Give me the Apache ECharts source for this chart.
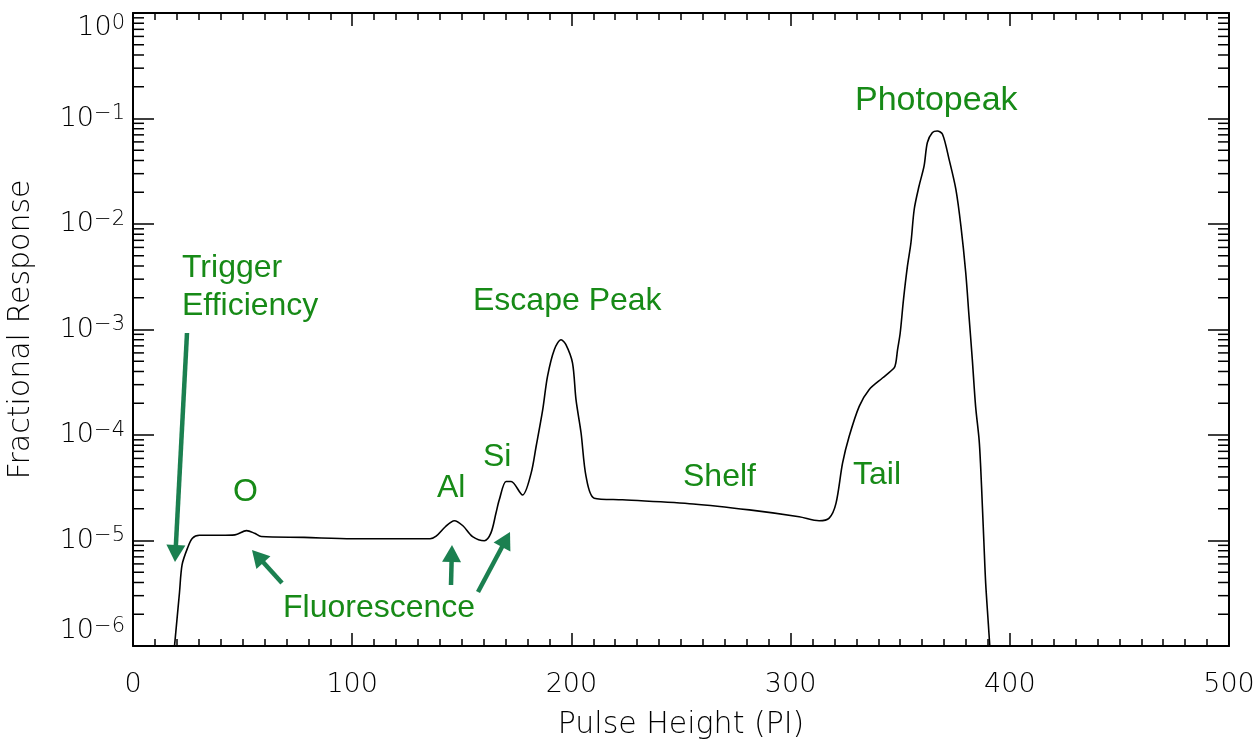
<!DOCTYPE html>
<html>
<head>
<meta charset="utf-8">
<script src="https://cdn.jsdelivr.net/npm/echarts@6/dist/echarts.min.js"></script>
<style>
html,body{margin:0;padding:0;background:#fff;}
#chart{width:1255px;height:740px;}
</style>
</head>
<body>
<div id="chart"></div>
<script>
// ---- data ----
const pulseHeight = [18.9, 21.2, 22.4, 24.9, 27.1, 30.3, 40.0, 46.5, 51.8, 55.5, 58.5, 78, 100, 120, 135.5,
  138.3, 142.5, 146.6, 150.5, 154.9, 160.3, 163.3, 165.6, 167.1, 170.2, 172.5, 177.7, 181.6, 183.9, 186.9,
  189.1, 192.2, 195.3, 197.5, 200.5, 202.1, 204.4, 206.7, 210.4, 223.3, 255.6, 281.2, 303.9, 313.0, 317.6,
  320.7, 323.7, 326.7, 331.3, 335.8, 341.9, 347.2, 348.0, 348.8, 350.0, 351.5, 353.3, 354.9, 356.4, 358.6,
  360.9, 362.4, 364.7, 366.9, 369.3, 372.3, 375.4, 377.7, 379.9, 381.4, 382.9, 384.4, 386.0, 386.7, 387.5,
  388.2, 389.0, 390.2, 390.9];
const fractionalResponse = [9.8e-7, 3.2e-6, 5.9e-6, 8.5e-6, 1.05e-5, 1.12e-5, 1.12e-5, 1.13e-5, 1.24e-5, 1.17e-5, 1.09e-5, 1.07e-5, 1.04e-5, 1.04e-5, 1.04e-5,
  1.10e-5, 1.35e-5, 1.54e-5, 1.38e-5, 1.09e-5, 9.96e-6, 1.18e-5, 1.82e-5, 2.43e-5, 3.62e-5, 3.62e-5, 2.7e-5, 4.33e-5, 7.78e-5, 1.73e-4,
  3.6e-4, 6.44e-4, 8.0e-4, 7.19e-4, 4.82e-4, 2.16e-4, 1.05e-4, 4.03e-5, 2.52e-5, 2.43e-5, 2.22e-5, 1.95e-5, 1.68e-5, 1.54e-5, 1.63e-5,
  2.25e-5, 5.41e-5, 9.68e-5, 1.87e-4, 2.69e-4, 3.47e-4, 4.31e-4, 4.82e-4, 6.44e-4, 9.27e-4, 1.92e-3, 3.98e-3, 6.64e-3, 1.38e-2, 2.29e-2,
  3.55e-2, 5.92e-2, 7.36e-2, 7.62e-2, 7.1e-2, 4.1e-2, 2.13e-2, 9.55e-3, 3.45e-3, 1.33e-3, 5.18e-4, 1.87e-4, 9.0e-5, 5.02e-5, 2.09e-5,
  9.4e-6, 3.92e-6, 1.63e-6, 9.8e-7];
const yDecades = [1e-6, 1e-5, 1e-4, 1e-3, 1e-2, 1e-1];
const yMinorMultipliers = [2, 3, 4, 5, 6, 7, 8, 9];
const xTitle = 'Pulse Height (PI)';
const yTitle = 'Fractional Response';
const annotations = [
  {text: 'Trigger', x: 182, y: 268},
  {text: 'Efficiency', x: 182, y: 306},
  {text: 'Escape Peak', x: 473, y: 301},
  {text: 'Photopeak', x: 855, y: 101, size: 34},
  {text: 'O', x: 233, y: 492},
  {text: 'Al', x: 437, y: 488},
  {text: 'Si', x: 483, y: 457},
  {text: 'Fluorescence', x: 283, y: 608},
  {text: 'Shelf', x: 683, y: 477},
  {text: 'Tail', x: 853, y: 475}
];
const arrows = [
  [187, 333, 175, 562],
  [282, 583, 252, 550],
  [451, 585, 452, 545],
  [478, 592, 510, 532]
];

// ---- build ----
const lineData = pulseHeight.map((x, i) => [x, fractionalResponse[i]]);
const minorTickData = [];
yDecades.forEach(d => yMinorMultipliers.forEach(m => minorTickData.push([0, m * d])));

const AXIS_FONT = "'DejaVu Sans ExtraLight', 'DejaVu Sans', sans-serif";
const ANN_FONT = "'Liberation Sans', Arial, Helvetica, sans-serif";
const GREEN_TEXT = '#178a17';
const GREEN_ARROW = '#1b8050';

function supLabel(v) {
  const e = Math.round(Math.log10(v));
  const es = e < 0 ? '\u2212' + (-e) : String(e);
  return '{b|10}{s|' + es + '}';
}

const xAxisCommon = {
  type: 'value', min: 0, max: 500, interval: 100,
  axisLine: {show: true, onZero: false, lineStyle: {color: '#000', width: 2}},
  axisTick: {show: true, inside: true, length: 13, lineStyle: {color: '#000', width: 1.5}},
  minorTick: {show: true, splitNumber: 10, length: 7, lineStyle: {color: '#000', width: 1.5}},
  splitLine: {show: false}, minorSplitLine: {show: false}
};
const yAxisCommon = {
  type: 'log', logBase: 10, min: 1e-6, max: 1,
  axisLine: {show: true, onZero: false, lineStyle: {color: '#000', width: 2}},
  axisTick: {show: true, inside: true, length: 21, lineStyle: {color: '#000', width: 1.5}},
  splitLine: {show: false}
};

const graphics = [];
annotations.forEach(a => {
  graphics.push({
    type: 'text', x: a.x, y: a.y, z: 100,
    style: {text: a.text, fill: GREEN_TEXT, font: (a.size || 32) + 'px ' + ANN_FONT,
      textAlign: 'left', textVerticalAlign: 'middle', verticalAlign: 'middle'}
  });
});
arrows.forEach(([x1, y1, x2, y2]) => {
  const dx = x2 - x1, dy = y2 - y1, L = Math.hypot(dx, dy);
  const ux = dx / L, uy = dy / L, px = -uy, py = ux;
  const hl = 17, hw = 9.5;
  const bx = x2 - ux * hl, by = y2 - uy * hl;
  graphics.push({type: 'line', z: 100, shape: {x1: x1, y1: y1, x2: bx + ux * 2, y2: by + uy * 2},
    style: {stroke: GREEN_ARROW, lineWidth: 4.5}});
  graphics.push({type: 'polygon', z: 100,
    shape: {points: [[x2, y2], [bx + px * hw, by + py * hw], [bx - px * hw, by - py * hw]]},
    style: {fill: GREEN_ARROW}});
});

const chart = echarts.init(document.getElementById('chart'), null, {renderer: 'canvas'});
chart.setOption({
  animation: false,
  backgroundColor: '#fff',
  grid: {left: 133, right: 26, top: 13, bottom: 94, containLabel: false, outerBoundsMode: 'none'},
  xAxis: [
    Object.assign({}, xAxisCommon, {
      position: 'bottom',
      axisLabel: {margin: 25, fontSize: 27, color: '#000', fontFamily: AXIS_FONT, fontWeight: 200},
      name: xTitle, nameLocation: 'middle', nameGap: 64,
      nameTextStyle: {fontSize: 30, color: '#000', fontFamily: AXIS_FONT, fontWeight: 200}
    }),
    Object.assign({}, xAxisCommon, {position: 'top', axisLabel: {show: false}})
  ],
  yAxis: [
    Object.assign({}, yAxisCommon, {
      position: 'left',
      axisLabel: {
        margin: 8, color: '#000', formatter: supLabel,
        verticalAlignMaxLabel: 'top', verticalAlignMinLabel: 'bottom',
        rich: {
          b: {fontSize: 27, fontFamily: AXIS_FONT, fontWeight: 200, color: '#000', lineHeight: 30},
          s: {fontSize: 21, fontFamily: AXIS_FONT, fontWeight: 200, color: '#000', verticalAlign: 'top', lineHeight: 18}
        }
      },
      name: yTitle, nameLocation: 'middle', nameGap: 97, nameRotate: 90,
      nameTextStyle: {fontSize: 30, color: '#000', fontFamily: AXIS_FONT, fontWeight: 200}
    }),
    Object.assign({}, yAxisCommon, {position: 'right', axisLabel: {show: false}})
  ],
  series: [
    {
      type: 'line', xAxisIndex: 0, yAxisIndex: 0, data: lineData,
      showSymbol: false, symbol: 'none', smooth: 0.3, clip: true,
      lineStyle: {color: '#000', width: 1.6}
    },
    {
      type: 'custom', xAxisIndex: 0, yAxisIndex: 0, data: minorTickData, silent: true,
      renderItem: function (params, api) {
        const v = api.value(1);
        const pl = api.coord([0, v]);
        const pr = api.coord([500, v]);
        return {type: 'group', children: [
          {type: 'line', shape: {x1: pl[0], y1: pl[1], x2: pl[0] + 11, y2: pl[1]}, style: {stroke: '#000', lineWidth: 1.5}},
          {type: 'line', shape: {x1: pr[0] - 11, y1: pr[1], x2: pr[0], y2: pr[1]}, style: {stroke: '#000', lineWidth: 1.5}}
        ]};
      }
    }
  ],
  graphic: graphics
});
</script>
</body>
</html>
